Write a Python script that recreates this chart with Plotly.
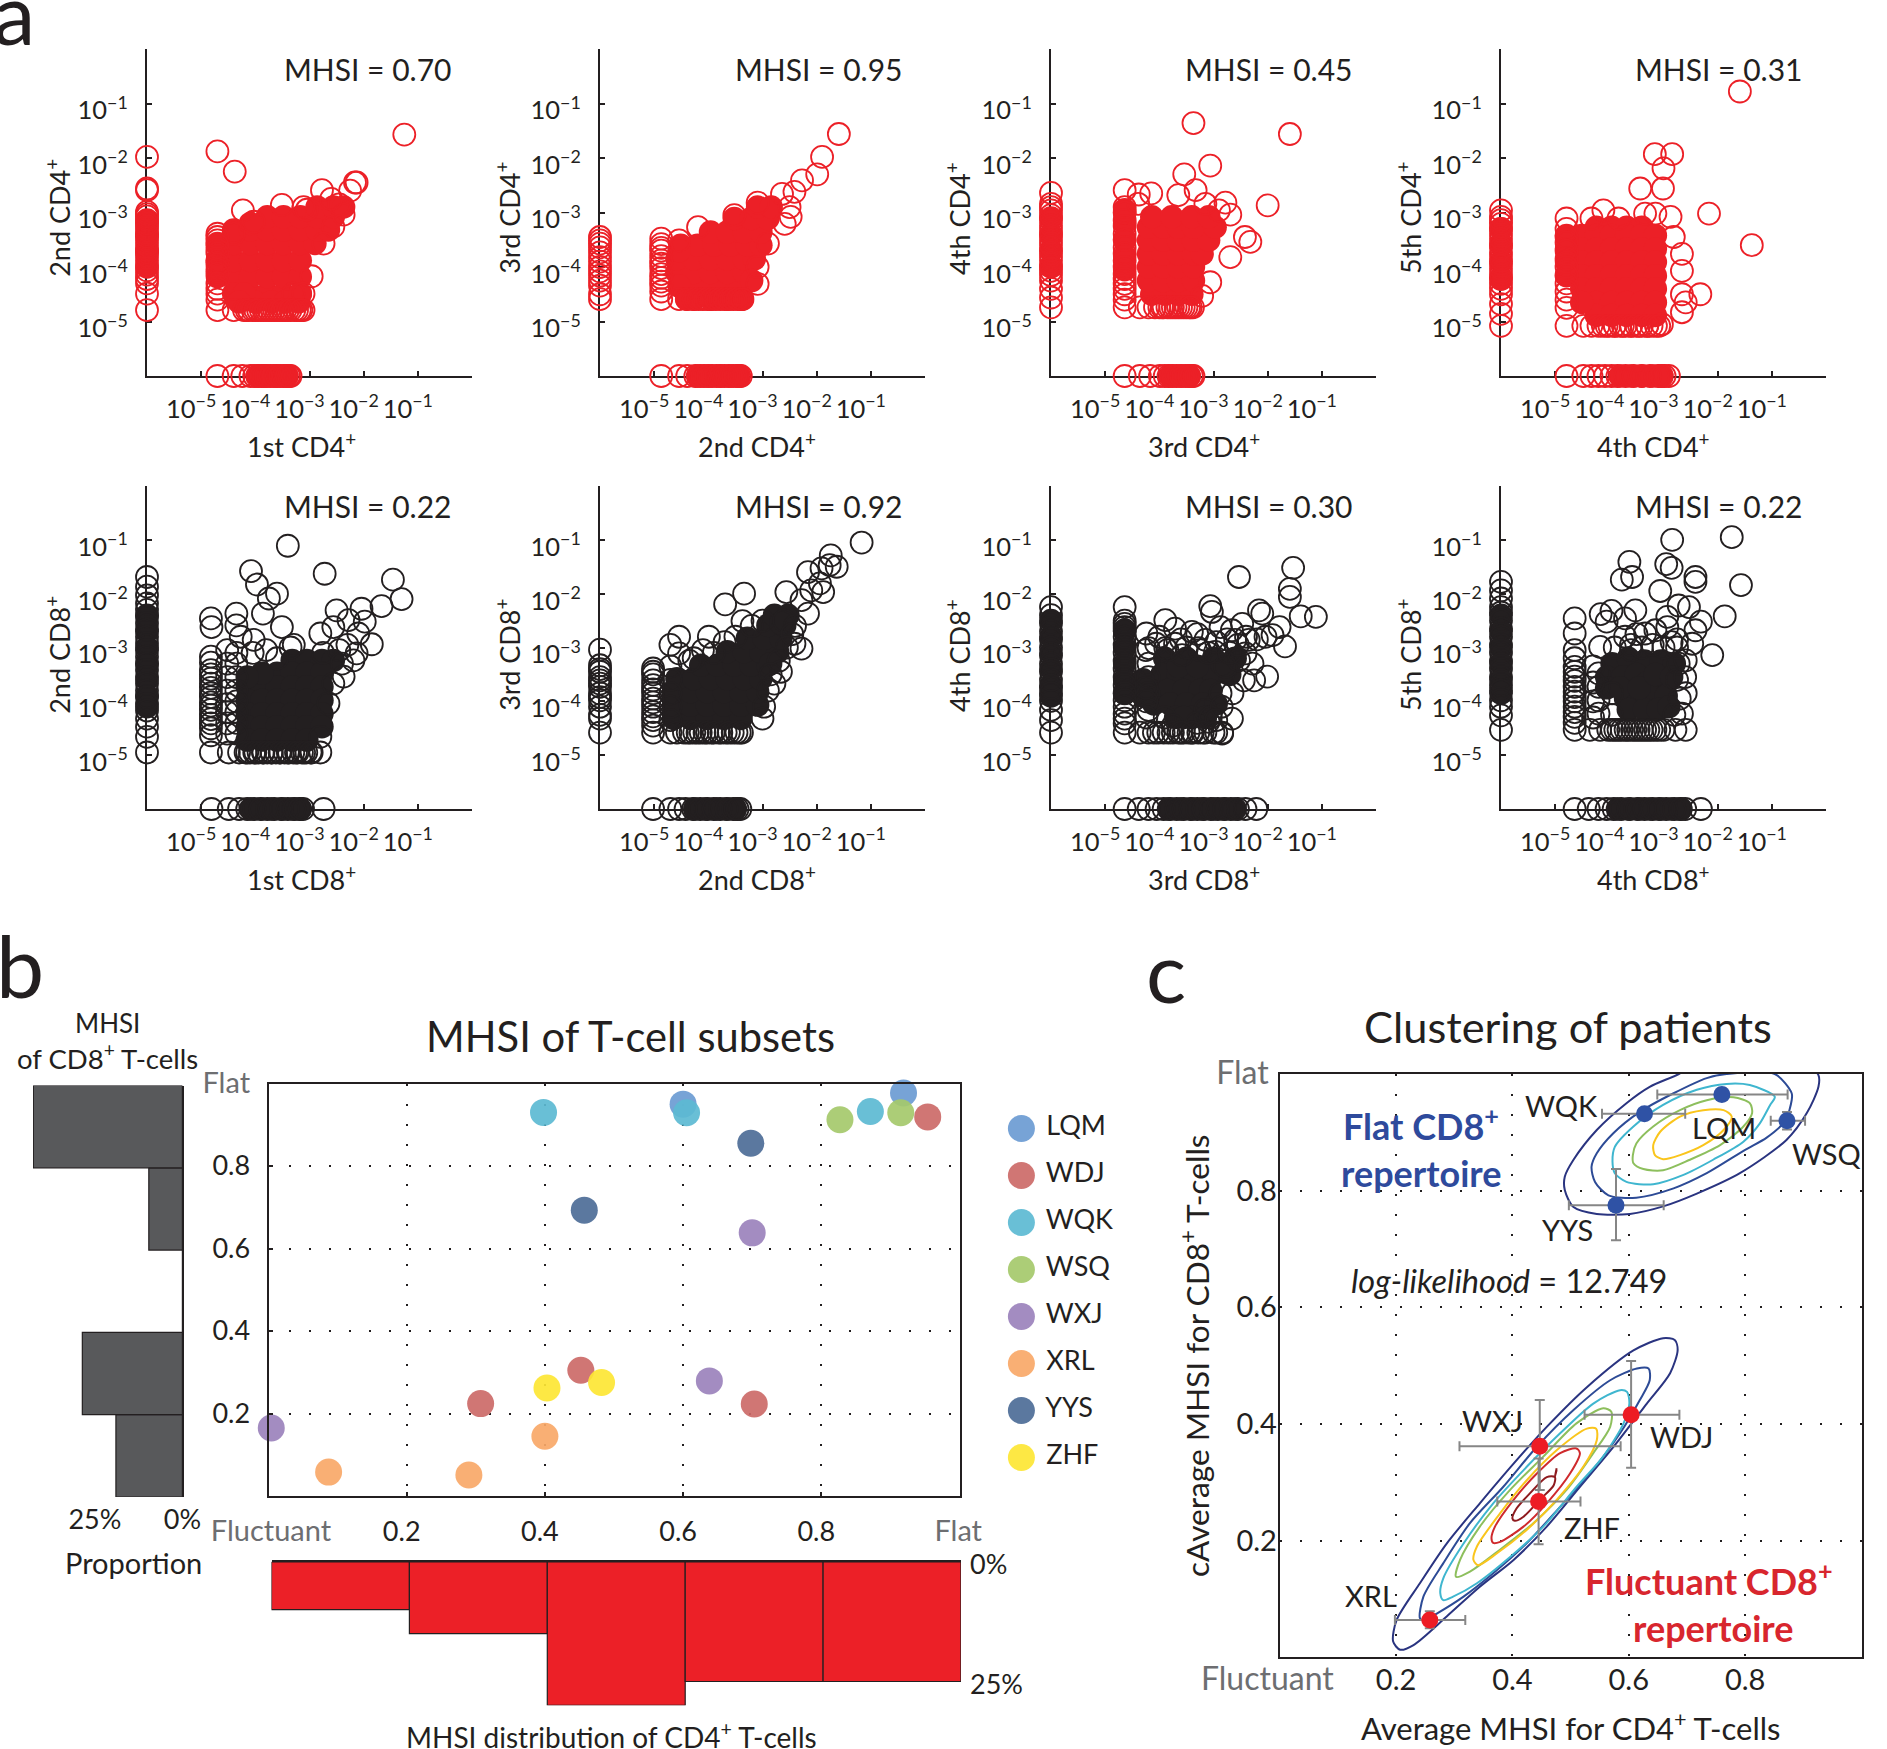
import plotly.graph_objects as go

W, H = 1887, 1749
FONT = "Lato"
INK = "#231f20"
RED = "#ec2027"
GREY = "#6d6e71"

# ---------- panel a: values are log10 of clone frequency; -6 stands for "absent" (on the axis)
ABSENT = -6
TICK_EXP = [-5, -4, -3, -2, -1, 0]

A1_LEFT = [-4.79,-4.49,-4.30,-4.06,-3.88,-3.69,-3.51,-3.32,-3.14,-2.99,-2.59,-2.56,-1.98,
           -4.22,-4.14,-3.97,-3.80,-3.73,-3.60,-3.44,-3.40,-3.25,-3.20,-3.07,-3.03]
A1_BOTTOM = [-4.70,-4.40,-4.24,-4.09,-3.94,-3.84,-3.72,-3.60,-3.48,-3.35,-4.02,-3.89,-3.80,-3.66,-3.54,-3.42,-3.38]
A1_ROW_X = [-4.16,-4.12,-4.00,-3.95,-3.85,-3.80,-3.70,-3.65,-3.55,-3.50,-3.40,-3.35,-3.28,-3.18,-3.15]
A1_COL_Y = [-3.45,-3.60,-3.75,-3.95,-4.05,-4.12,-4.30,-4.40,-4.60]
A1_RING_X = [-1.25,-4.70,-4.38,-2.16,-2.13,-2.25,-2.77,-4.23,-3.51,-4.03,-3.11,-4.40,-4.70,-4.70,-4.70,-4.70,-2.37,-2.56,-2.74,-2.96,
             -4.70,-4.40,-4.21,-4.05,-3.90,-3.75,-3.60,-3.45,-3.23,-3.11,-4.70,-3.30,-3.11,-2.60,-2.45,-3.05]
A1_RING_Y = [-1.57,-1.88,-2.25,-2.45,-2.45,-2.60,-2.59,-2.96,-2.86,-3.17,-2.90,-3.39,-3.39,-3.51,-3.69,-3.88,-3.04,-3.26,-3.57,-4.17,
             -4.79,-4.79,-4.79,-4.79,-4.79,-4.79,-4.79,-4.79,-4.79,-4.79,-4.49,-4.49,-4.49,-2.75,-2.85,-2.95]
A1_CORE_X = [-4.09,-3.78,-3.48,-3.17,
             -4.70,-4.40,-4.09,-3.78,-3.48,-3.17,
             -4.70,-4.40,-4.09,-3.78,-3.48,-3.17,
             -4.70,-4.40,-4.09,-3.78,-3.48,-3.17,-2.90,
             -4.40,-4.09,-3.78,-3.48,-3.17,-2.86,-2.65,
             -3.78,-3.48,-3.17,-2.86,-2.56,
             -2.86,-2.56,-2.37,
             -6,-6,-6,-6, -3.97,-3.78,-3.60,-3.42,
             -4.00,-3.70,-3.45,-3.20,-3.17,-4.09,
             -4.40,-4.21,-4.30]
A1_CORE_Y = [-4.49,-4.49,-4.49,-4.49,
             -4.18,-4.18,-4.18,-4.18,-4.18,-4.18,
             -3.88,-3.88,-3.88,-3.88,-3.88,-3.88,
             -3.57,-3.57,-3.57,-3.57,-3.57,-3.57,-3.57,
             -3.32,-3.32,-3.32,-3.32,-3.32,-3.32,-3.32,
             -3.08,-3.08,-3.08,-3.08,-3.08,
             -2.90,-2.90,-2.90,
             -4.0,-3.7,-3.4,-3.15, -6,-6,-6,-6,
             -4.64,-4.64,-4.64,-4.64,-4.49,-3.20,
             -4.49,-4.49,-4.64]

A2_LEFT = [-4.59,-4.34,-4.16,-4.00,-3.82,-3.64,-3.51,-3.45,-4.50,-4.25,-4.08,-3.90,-3.73,-3.57]
A2_BOTTOM = [-4.87,-4.54,-4.39,-4.24,-4.08,-3.93,-3.77,-3.62,-3.46,-3.40,-4.15,-4.00,-3.85,-3.70,-3.54,-3.43]
A2_ROW_X = [-4.27,-4.18,-4.10,-4.02,-3.94,-3.86,-3.78,-3.70,-3.62,-3.54,-3.46,-3.38]
A2_COL_Y = [-3.58,-3.65,-3.80,-3.88,-4.02,-4.20,-4.27,-4.45]
A2_RING_X = [-1.59,-1.90,-1.99,-2.27,-2.41,-2.64,-2.50,-2.48,-2.59,-3.09,-3.52,-4.19,-4.54,
             -4.87,-4.87,-4.87,-4.87,-4.87,-4.87,-4.54,-4.39,-2.90,-3.09,-3.09,-3.37]
A2_RING_Y = [-1.56,-1.98,-2.30,-2.41,-2.62,-2.66,-2.90,-3.08,-3.21,-2.82,-3.05,-3.27,-3.51,
             -3.48,-3.70,-3.94,-4.13,-4.34,-4.59,-4.59,-4.59,-3.57,-4.00,-4.31,-4.59]
A2_CORE_X = [-4.27,-3.96,-3.65,-3.40,
             -4.39,-4.08,-3.77,-3.46,
             -4.58,-4.27,-3.96,-3.65,-3.34,
             -4.58,-4.27,-3.96,-3.65,-3.34,-3.15,
             -4.51,-4.20,-3.89,-3.59,-3.28,-3.03,
             -3.96,-3.65,-3.34,-3.03,
             -3.52,-3.21,-2.90,
             -3.09,-2.84,
             -4.20,-4.00,-3.80,-3.60,-3.45,
             -4.54,-4.54,-4.40,-3.20]
A2_CORE_Y = [-4.59,-4.59,-4.59,-4.59,
             -4.34,-4.34,-4.34,-4.34,
             -4.10,-4.10,-4.10,-4.10,-4.10,
             -3.85,-3.85,-3.85,-3.85,-3.85,-3.85,
             -3.60,-3.60,-3.60,-3.60,-3.60,-3.60,
             -3.36,-3.36,-3.36,-3.36,
             -3.11,-3.11,-3.11,
             -2.90,-2.90,
             -6,-6,-6,-6,-6,
             -3.70,-4.35,-4.59,-4.25]

A3_LEFT = [-4.74,-4.56,-4.40,-4.25,-4.07,-3.88,-3.70,-3.51,-3.33,-3.14,-2.96,-2.84,-2.64,
           -4.15,-3.98,-3.80,-3.60,-3.42,-3.24,-3.05,-2.90]
A3_BOTTOM = [-4.64,-4.36,-4.17,-3.99,-3.83,-3.68,-3.52,-3.37,-3.90,-3.75,-3.60,-3.45,-3.40]
A3_ROW_X = [-4.00,-3.92,-3.80,-3.70,-3.60,-3.50,-3.42]
A3_COL_Y = [-3.00,-3.25,-3.50,-3.75,-4.00,-4.22,-4.40,-4.60]
A3_RING_X = [-3.37,-1.59,-3.06,-3.54,-3.65,-3.33,-2.00,-4.64,-4.38,-4.15,-2.78,-2.69,-2.90,-3.15,-2.42,-2.32,-2.69,-3.06,-3.21,
             -4.64,-4.36,-4.20,-4.08,-3.95,-3.85,-3.75,-3.65,-3.55,-3.45,-3.38,
             -4.64,-4.64,-4.64,-4.64,-4.64,-4.64,-4.64,-4.64,-4.39]
A3_RING_Y = [-1.36,-1.56,-2.14,-2.30,-2.68,-2.59,-2.87,-2.59,-2.67,-2.65,-2.82,-3.04,-2.96,-2.84,-3.45,-3.54,-3.82,-4.28,-4.53,
             -4.74,-4.74,-4.74,-4.74,-4.74,-4.74,-4.74,-4.74,-4.74,-4.74,-4.74,
             -2.90,-3.14,-3.39,-3.64,-3.88,-4.13,-4.31,-4.50,-2.84]
A3_CORE_X = [-4.14,-3.89,-3.65,-3.40,
             -4.20,-3.93,-3.65,-3.37,
             -4.20,-3.93,-3.65,-3.37,
             -4.20,-3.93,-3.65,-3.37,-3.21,
             -4.20,-3.93,-3.65,-3.37,-3.09,
             -4.20,-3.93,-3.65,-3.37,-2.97,
             -4.14,-3.77,-3.40,-3.09,
             -4.64,-4.64,-4.64,
             -6,-6,-6,-6,
             -3.80,-3.60,-3.45,
             -4.64,-4.64,-4.64]
A3_CORE_Y = [-4.50,-4.50,-4.50,-4.50,
             -4.25,-4.25,-4.25,-4.25,
             -4.00,-4.00,-4.00,-4.00,
             -3.76,-3.76,-3.76,-3.76,-3.76,
             -3.51,-3.51,-3.51,-3.51,-3.51,
             -3.27,-3.27,-3.27,-3.27,-3.27,
             -3.08,-3.08,-3.08,-3.08,
             -3.20,-3.50,-3.80,
             -4.00,-3.70,-3.40,-3.10,
             -6,-6,-6,
             -3.00,-4.05,-2.95]

A4_LEFT = [-5.08,-4.86,-4.68,-4.50,-4.31,-4.13,-3.94,-3.76,-3.57,-3.39,-3.21,-3.08,-2.96,
           -4.40,-4.22,-4.03,-3.85,-3.66,-3.48,-3.30,-3.14]
A4_BOTTOM = [-4.79,-4.48,-4.33,-4.20,-4.08,-3.96,-2.98,-2.90,-3.85,-3.70,-3.55,-3.40,-3.25,-3.10,-3.03]
A4_ROW_X = [-4.12,-4.00,-3.90,-3.80,-3.70,-3.60,-3.50,-3.40,-3.30,-3.22,-3.14,-3.08]
A4_COL_Y = [-3.45,-3.55,-3.70,-3.85,-4.00,-4.15,-4.30,-4.45,-4.60,-4.75]
A4_RING_X = [-1.59,-3.16,-2.84,-3.00,-3.01,-3.43,-2.16,-1.37,-2.32,-2.66,-2.66,-2.66,-2.66,-2.81,-2.87,-3.15,-3.34,-4.11,-4.33,-3.83,
             -4.79,-4.79,-3.03,-4.79,-4.48,-4.33,-4.20,-4.05,-3.90,-3.75,-3.60,-3.45,-3.30,-2.59]
A4_RING_Y = [-0.78,-1.93,-1.93,-2.19,-2.56,-2.56,-3.02,-3.60,-4.50,-3.76,-4.07,-4.50,-4.83,-3.45,-3.08,-3.02,-3.02,-2.96,-3.11,-3.11,
             -3.11,-3.30,-5.05,-5.08,-5.08,-5.08,-5.08,-5.08,-5.08,-5.08,-5.08,-5.08,-5.08,-4.65]
A4_CORE_X = [-4.24,-3.96,-3.68,-3.40,
             -4.79,-4.51,-4.24,-3.96,-3.68,-3.40,-3.15,
             -4.79,-4.51,-4.24,-3.96,-3.68,-3.40,-3.15,
             -4.79,-4.51,-4.24,-3.96,-3.68,-3.40,-3.15,
             -4.79,-4.51,-4.24,-3.96,-3.68,-3.40,-3.15,
             -4.51,-4.24,-3.96,-3.68,-3.40,-3.15,
             -4.24,-3.96,-3.68,-3.40,-3.15,
             -6,-6,-6,-6,
             -3.80,-3.60,-3.40,-3.20,-3.05,
             -4.24,-3.96,-3.68,-3.40,-3.15,-4.51]
A4_CORE_Y = [-3.27,-3.27,-3.27,-3.27,
             -3.42,-3.42,-3.42,-3.42,-3.42,-3.42,-3.42,
             -3.67,-3.67,-3.67,-3.67,-3.67,-3.67,-3.67,
             -3.91,-3.91,-3.91,-3.91,-3.91,-3.91,-3.91,
             -4.16,-4.16,-4.16,-4.16,-4.16,-4.16,-4.16,
             -4.40,-4.40,-4.40,-4.40,-4.40,-4.40,
             -4.65,-4.65,-4.65,-4.65,-4.65,
             -4.20,-3.90,-3.60,-3.30,
             -6,-6,-6,-6,-6,
             -4.89,-4.89,-4.89,-4.89,-4.89,-4.65]

A5_LEFT = [-4.95,-4.66,-4.47,-4.32,-1.69,-1.87,-2.03,-2.18,
           -2.30,-2.42,-2.55,-2.67,-2.80,-2.92,-3.05,-3.17,-3.30,-3.42,-3.55,-3.67,-3.80,-3.92,-4.05,-4.17]
A5_BOTTOM = [-4.81,-4.49,-4.30,-2.74,-4.15,-4.02,-3.90,-3.78,-3.65,-3.52,-3.40,-3.28,-3.18,-3.12]
A5_ROW_X = [-4.18,-4.10,-4.02,-3.94,-3.86,-3.78,-3.70,-3.62,-3.54,-3.46,-3.38,-3.30,-3.22,-3.14,-3.06,-2.98]
A5_COL_Y = [-3.28,-3.50,-3.58,-3.75,-3.85,-4.02,-4.08,-4.25,-4.33,-4.50]
A5_RING_X = [-3.40,-2.72,-1.46,-1.30,-1.67,-4.08,-3.97,-3.60,-3.75,-4.82,-4.81,-4.35,-4.35,-3.86,-3.51,-2.50,-2.04,-1.98,-1.85,-2.28,
             -2.10,-2.37,-2.19,-2.80,-2.56,-4.27,-4.03,-3.29,-2.13,-4.82,-4.82,-4.82,-4.82,-4.82,-4.82,-4.82,-4.82,
             -4.49,-4.30,-4.15,-4.00,-3.85,-3.70,-3.55,-3.40,-3.25,-3.10,-2.96,-2.80,-2.80,-2.65,-2.56,-4.52,-4.52,-4.52,
             -4.35,-4.35,-4.35,-4.35,-4.35,-4.35,-4.35,-4.35,-4.52,-4.52,-4.52,-4.52,-4.52,
             -4.05,-3.80,-3.60,-3.35,-2.75,-2.45,-2.40,-2.30]
A5_RING_Y = [-1.11,-1.63,-1.74,-2.10,-2.23,-1.58,-1.83,-2.00,-2.09,-2.46,-2.62,-2.37,-2.59,-2.37,-2.62,-2.31,-2.28,-2.52,-2.94,-2.49,
             -2.74,-3.54,-3.24,-2.74,-2.62,-2.80,-2.86,-2.95,-3.11,-3.17,-3.42,-3.67,-3.92,-4.16,-4.41,-4.63,-4.95,
             -4.95,-4.95,-4.95,-4.95,-4.95,-4.95,-4.95,-4.95,-4.95,-4.95,-4.95,-4.95,-4.66,-4.04,-3.67,-3.30,-3.80,-4.41,
             -3.10,-3.30,-3.55,-3.80,-4.00,-4.20,-4.40,-4.60,-3.05,-3.55,-4.05,-4.20,-4.60,
             -3.10,-3.05,-3.20,-3.00,-3.10,-3.05,-3.30,-2.95]
A5_CORE_X = [-3.32,-3.05,-2.77,-2.56,
             -3.60,-3.32,-3.05,-2.77,
             -4.15,-3.88,-3.60,-3.32,-3.05,-2.77,
             -4.15,-3.88,-3.60,-3.32,-3.05,-2.77,
             -4.15,-3.88,-3.60,-3.32,-3.05,-2.77,
             -4.15,-3.88,-3.60,-3.32,-3.05,-2.77,
             -4.15,-3.88,-3.60,-3.32,-3.05,
             -6,-6,-6,-6,-6,-6,-6,
             -4.09,-3.90,-3.70,-3.50,-3.30,-3.17,
             -3.88,-4.15]
A5_CORE_Y = [-3.24,-3.24,-3.24,-3.24,
             -3.48,-3.48,-3.48,-3.48,
             -3.73,-3.73,-3.73,-3.73,-3.73,-3.73,
             -3.98,-3.98,-3.98,-3.98,-3.98,-3.98,
             -4.23,-4.23,-4.23,-4.23,-4.23,-4.23,
             -4.47,-4.47,-4.47,-4.47,-4.47,-4.47,
             -4.72,-4.72,-4.72,-4.72,-4.72,
             -2.40,-2.70,-3.00,-3.30,-3.60,-3.90,-4.10,
             -6,-6,-6,-6,-6,-6,
             -3.48,-3.55]

A6_LEFT = [-4.58,-4.32,-4.10,-3.92,-3.73,-3.61,-3.45,-3.33,-3.04,-4.25,-3.98,-3.85,-3.67,-3.55,-3.40]
A6_BOTTOM = [-5.02,-4.70,-4.54,-4.42,-3.41,-4.28,-4.15,-4.02,-3.90,-3.78,-3.66,-3.54,-3.46]
A6_ROW_X = [-4.38,-4.26,-4.14,-4.02,-3.90,-3.76,-3.62,-3.48,-3.38]
A6_COL_Y = [-3.45,-3.50,-3.70,-3.78,-3.95,-4.02,-4.20,-4.28,-4.45]
A6_RING_X = [-1.17,-1.74,-1.63,-1.76,-1.91,-2.16,-1.94,-1.88,-2.10,-2.28,-3.34,-3.69,-3.37,-2.56,-2.16,-2.28,-2.41,
             -4.54,-3.99,-4.70,-4.54,-4.27,-2.66,-2.97,-3.00,-2.78,
             -5.02,-5.02,-5.02,-5.02,-5.02,-5.02,
             -4.70,-4.58,-4.45,-4.33,-4.20,-4.07,-3.94,-3.81,-3.68,-3.55,-3.42,
             -4.70,-4.70,-4.70,-4.70,-4.70,-4.10,-3.90,-4.35,-3.70,-3.50,-3.20,-3.00,-2.60,-2.40,-2.45,-2.55,-2.70,-2.85,-2.90]
A6_RING_Y = [-1.05,-1.29,-1.50,-1.47,-1.53,-1.60,-1.81,-1.97,-1.94,-2.12,-2.00,-2.20,-2.51,-1.97,-2.37,-3.02,-2.93,
             -2.80,-2.80,-2.95,-3.11,-3.20,-3.45,-4.10,-4.32,-3.67,
             -3.39,-3.61,-3.85,-4.10,-4.35,-4.58,
             -4.58,-4.58,-4.58,-4.58,-4.58,-4.58,-4.58,-4.58,-4.58,-4.58,-4.58,
             -3.35,-3.60,-3.85,-4.10,-4.35,-3.05,-3.10,-3.25,-2.90,-2.80,-2.60,-2.50,-2.50,-2.60,-2.75,-3.00,-3.25,-3.50,-3.80]
A6_CORE_X = [-4.64,-4.33,-4.02,-3.71,-3.40,
             -4.64,-4.33,-4.02,-3.71,-3.40,-3.09,
             -4.64,-4.33,-4.02,-3.71,-3.40,-3.09,
             -4.58,-4.27,-3.96,-3.65,-3.34,-3.03,
             -4.14,-3.83,-3.52,-3.21,-2.90,
             -3.65,-3.34,-3.03,-2.72,
             -3.28,-2.97,-2.66,
             -2.90,-2.59,
             -2.78,-2.53,
             -4.25,-4.05,-3.85,-3.65,-3.50,
             -2.66,-2.85]
A6_CORE_Y = [-4.32,-4.32,-4.32,-4.32,-4.32,
             -4.07,-4.07,-4.07,-4.07,-4.07,-4.07,
             -3.82,-3.82,-3.82,-3.82,-3.82,-3.82,
             -3.58,-3.58,-3.58,-3.58,-3.58,-3.58,
             -3.33,-3.33,-3.33,-3.33,-3.33,
             -3.08,-3.08,-3.08,-3.08,
             -2.83,-2.83,-2.83,
             -2.59,-2.59,
             -2.40,-2.40,
             -6,-6,-6,-6,-6,
             -2.55,-3.30]

A7_LEFT = [-4.58,-4.35,-4.16,-3.99,-2.25,-2.40,-2.55,-2.70,-2.85,-3.00,-3.15,-3.30,-3.45,-3.60,-3.75,-3.85]
A7_BOTTOM = [-4.64,-4.38,-4.20,-4.05,-2.41,-2.21,-3.92,-3.80,-3.68,-3.55,-3.42,-3.30,-3.18,-3.05,-2.92,-2.80,-2.68,-2.55]
A7_ROW_X = [-4.10,-3.92,-3.75,-3.55,-3.38,-3.20,-3.00,-2.95,-3.40,-3.60]
A7_COL_Y = [-2.50,-2.62,-2.80,-2.95,-3.10,-3.25,-3.40,-3.55,-3.70,-3.85,-3.98,-4.10,-4.32]
A7_RING_X = [-2.53,-1.53,-1.59,-1.59,-1.39,-1.11,-3.06,-3.03,-2.16,-2.10,-1.68,-1.78,-2.04,-2.01,-2.25,-2.44,-2.28,-2.47,-2.66,-2.35,
             -1.91,-2.66,-2.84,-3.09,-3.89,-3.71,-3.40,-3.15,-2.87,-4.24,-4.06,-3.71,-2.78,-2.87,
             -4.64,-4.64,-4.64,-4.64,-4.64,-4.64,-4.36,-4.20,-4.02,-3.83,-3.65,-3.46,-3.28,-3.15,-2.84,
             -4.20,-3.89,-3.58,-3.28,-2.97,-2.60,-2.41,-2.53,-4.20,-4.20,-3.15,
             -4.25,-4.20,-4.20,-4.24,-4.24,-4.24,-4.00,-3.85,-3.60,-3.50,-3.30,-3.25,-3.10,-2.95,-2.75,-2.70,-2.55,-2.40,-2.20,
             -3.90,-3.75,-3.30,-3.05,-2.85,-2.95,-2.65]
A7_RING_Y = [-1.69,-1.52,-1.91,-2.06,-2.42,-2.43,-2.23,-2.34,-2.31,-2.37,-2.98,-2.62,-2.80,-3.54,-3.61,-3.61,-3.30,-2.56,-2.68,-2.86,
             -2.77,-4.32,-4.60,-4.38,-2.49,-2.65,-2.71,-2.86,-2.62,-2.74,-2.93,-2.93,-3.36,-3.85,
             -2.25,-2.56,-2.68,-4.23,-4.41,-4.58,-4.58,-4.58,-4.58,-4.58,-4.58,-4.58,-4.58,-4.58,-4.58,
             -3.01,-3.01,-3.14,-3.01,-3.08,-2.86,-3.11,-3.24,-3.85,-4.16,-4.16,
             -3.05,-3.30,-3.55,-3.75,-4.00,-4.30,-2.80,-3.05,-2.85,-3.00,-2.75,-3.05,-3.10,-2.90,-2.85,-3.10,-2.95,-2.80,-2.85,
             -4.30,-4.45,-4.40,-4.30,-4.10,-4.35,-3.85]
A7_CORE_X = [-3.90,-3.50,-3.00,-2.60,
             -3.95,-3.65,-3.35,-3.00,-2.70,
             -4.15,-3.85,-3.55,-3.25,-3.05,
             -4.10,-3.80,-3.50,-3.20,
             -3.70,-3.40,
             -4.64,-4.64,-4.64,-4.64,-4.64,
             -6,-6,-6,-6,-6,-6,
             -3.83,-3.60,-3.40,-3.20,-3.00,-2.80,-2.60,
             -3.65,-3.30,-2.85,-4.30,-4.30,-2.95,-3.55,-3.15]
A7_CORE_Y = [-3.20,-3.20,-3.20,-3.20,
             -3.50,-3.50,-3.50,-3.50,-3.50,
             -3.80,-3.80,-3.80,-3.80,-3.80,
             -4.05,-4.05,-4.05,-4.05,
             -4.30,-4.30,
             -2.70,-3.00,-3.30,-3.60,-3.85,
             -2.50,-2.80,-3.10,-3.40,-3.70,-3.90,
             -6,-6,-6,-6,-6,-6,-6,
             -3.35,-3.35,-3.30,-3.60,-3.90,-4.05,-4.30,-4.30]

A8_LEFT = [-4.53,-4.26,-4.10,-3.98,-1.78,-1.94,-2.09,-2.25,-2.35,-2.50,-2.65,-2.80,-2.95,-3.10,-3.25,-3.40,-3.55,-3.70,-3.80]
A8_BOTTOM = [-4.64,-4.38,-4.20,-4.05,-2.31,-3.92,-3.78,-3.62,-3.48,-3.35,-3.20,-3.08,-2.95,-2.80,-2.68,-2.60]
A8_ROW_X = [-3.95,-3.83,-3.70,-3.58,-3.46,-3.34,-3.22,-3.08]
A8_COL_Y = [-3.20,-3.45,-3.62,-3.82,-4.00,-4.20,-4.40]
A8_RING_X = [-1.74,-2.84,-3.63,-3.58,-3.77,-2.95,-2.85,-2.41,-2.41,-1.57,-3.06,-1.87,-2.10,-2.72,-2.53,-2.31,-2.41,-2.47,-2.93,-2.93,
             -4.16,-3.96,-4.05,-3.71,-3.52,-4.17,-3.71,-3.34,-3.15,-2.59,-2.72,-2.59,-2.66,-2.59,-2.78,
             -4.64,-4.64,-4.64,-4.64,-4.64,-4.64,-4.64,-4.64,-4.64,-4.64,
             -4.36,-4.17,-4.02,-3.89,-3.77,-3.65,-3.52,-3.40,-3.28,-3.15,-3.00,
             -4.20,-4.20,-4.20,-4.20,-3.95,-3.60,
             -4.30,-4.30,-4.30,-4.30,-3.95,-3.90,-3.60,-3.40,-3.20,-3.00,-2.85,-2.75,-2.60,-2.75,-2.70,-2.80,-3.50,-2.75]
A8_RING_Y = [-0.95,-1.00,-1.41,-1.69,-1.74,-1.45,-1.52,-1.69,-1.78,-1.84,-1.95,-2.42,-3.14,-2.22,-2.25,-2.52,-2.68,-2.93,-2.43,-2.62,
             -2.38,-2.32,-2.52,-2.46,-2.31,-2.99,-2.80,-2.74,-2.68,-3.24,-3.30,-3.85,-4.23,-4.53,-4.53,
             -2.46,-2.74,-3.05,-3.36,-3.54,-3.73,-3.92,-4.10,-4.29,-4.53,
             -4.53,-4.53,-4.53,-4.53,-4.53,-4.53,-4.53,-4.53,-4.53,-4.53,-4.53,
             -3.48,-3.73,-3.98,-4.23,-3.85,-3.05,
             -3.35,-3.65,-4.00,-4.30,-4.25,-3.00,-2.95,-3.00,-2.95,-3.00,-2.90,-3.00,-3.55,-3.60,-3.95,-4.25,-2.75,-2.85]
A8_CORE_X = [-3.95,-3.65,-3.35,-3.05,-2.80,
             -4.05,-3.75,-3.50,
             -3.30,-3.00,
             -3.70,-3.45,-3.20,-2.95,
             -3.65,-3.35,-3.10,-2.90,
             -6,-6,-6,-6,-6,-6,
             -3.85,-3.65,-3.45,-3.25,-3.05,-2.85,-2.70,
             -4.05,-3.80,-3.45,-3.15,-2.85]
A8_CORE_Y = [-3.30,-3.20,-3.25,-3.25,-3.30,
             -3.55,-3.55,-3.50,
             -3.65,-3.70,
             -3.95,-3.95,-3.90,-3.90,
             -4.15,-4.15,-4.15,-4.10,
             -2.40,-2.70,-3.00,-3.30,-3.60,-3.85,
             -6,-6,-6,-6,-6,-6,-6,
             -3.75,-3.75,-3.75,-3.50,-3.55]

A_ROW_Y = [-4.79, -4.59, -4.74, -5.08, -4.95, -4.58, -4.58, -4.53]
A_COL_X = [-4.70, -4.87, -4.64, -4.79, -4.82, -5.02, -4.64, -4.64]
A_X_LABELS = ["1st CD4", "2nd CD4", "3rd CD4", "4th CD4", "1st CD8", "2nd CD8", "3rd CD8", "4th CD8"]
A_Y_LABELS = ["2nd CD4", "3rd CD4", "4th CD4", "5th CD4", "2nd CD8", "3rd CD8", "4th CD8", "5th CD8"]
A_MHSI = ["0.70", "0.95", "0.45", "0.31", "0.22", "0.92", "0.30", "0.22"]

# ---------- panel b
PATIENTS = ["LQM", "WDJ", "WQK", "WSQ", "WXJ", "XRL", "YYS", "ZHF"]
PATIENT_COLORS = ["#6b9bd2", "#cc6a68", "#5cbad3", "#a5c96b", "#9b82bc", "#f9a868", "#4d6c97", "#fde634"]
B_X = [[0.919, 0.600], [0.954, 0.307, 0.452, 0.703], [0.398, 0.605, 0.871], [0.827, 0.915],
       [0.700, 0.638, 0.004], [0.087, 0.290, 0.400], [0.698, 0.457], [0.403, 0.482]]
B_Y = [[0.977, 0.950], [0.919, 0.224, 0.305, 0.223], [0.930, 0.929, 0.932], [0.912, 0.929],
       [0.638, 0.279, 0.165], [0.058, 0.051, 0.145], [0.855, 0.693], [0.262, 0.275]]
BIN_CENTRES = [0.1, 0.3, 0.5, 0.7, 0.9]
CD8_SHARE = [19.0, 28.6, 0.0, 9.6, 42.6]
CD4_SHARE = [10.0, 15.0, 30.0, 25.0, 25.0]

# ---------- panel c
C_BLUE = ["LQM", "WQK", "WSQ", "YYS"]
C_BLUE_X = [0.760, 0.627, 0.872, 0.578]
C_BLUE_Y = [0.965, 0.932, 0.920, 0.775]
C_BLUE_XLO = [0.649, 0.554, 0.844, 0.497]
C_BLUE_XHI = [0.873, 0.697, 0.903, 0.660]
C_BLUE_YLO = [0.955, 0.925, 0.905, 0.715]
C_BLUE_YHI = [0.975, 0.940, 0.935, 0.837]
C_RED = ["XRL", "ZHF", "WXJ", "WDJ"]
C_RED_X = [0.258, 0.445, 0.447, 0.604]
C_RED_Y = [0.064, 0.267, 0.362, 0.416]
C_RED_XLO = [0.198, 0.374, 0.309, 0.524]
C_RED_XHI = [0.319, 0.517, 0.586, 0.687]
C_RED_YLO = [0.050, 0.194, 0.287, 0.325]
C_RED_YHI = [0.079, 0.341, 0.441, 0.508]

CONTOUR_COLORS = ["#2a3480", "#2d4b96", "#3fb6cf", "#8dbf5d", "#fac51c", "#cf2a2d", "#8e1b1f"]

BLUE_1X = [0.490,0.505,0.545,0.596,0.636,0.686,0.722,0.791,0.894,0.926,0.926,0.906,0.871,0.791,0.717,0.659,0.602,0.545,0.505,0.490,0.490]
BLUE_1Y = [0.824,0.853,0.904,0.950,0.978,1.000,1.021,1.033,1.027,0.998,0.978,0.933,0.887,0.830,0.795,0.773,0.760,0.760,0.772,0.801,0.824]
BLUE_2X = [0.536,0.545,0.573,0.619,0.677,0.734,0.768,0.851,0.880,0.880,0.869,0.837,0.800,0.734,0.677,0.613,0.565,0.542,0.536]
BLUE_2Y = [0.841,0.864,0.898,0.935,0.967,0.993,1.000,1.000,0.967,0.955,0.920,0.891,0.870,0.830,0.804,0.788,0.792,0.815,0.841]
BLUE_3X = [0.572,0.576,0.608,0.659,0.717,0.768,0.808,0.851,0.843,0.825,0.797,0.745,0.694,0.642,0.596,0.576,0.572]
BLUE_3Y = [0.850,0.875,0.910,0.947,0.973,0.983,0.981,0.961,0.947,0.915,0.884,0.853,0.827,0.811,0.815,0.830,0.850]
BLUE_4X = [0.607,0.613,0.642,0.688,0.734,0.780,0.808,0.812,0.797,0.757,0.705,0.659,0.625,0.608,0.607]
BLUE_4Y = [0.861,0.881,0.910,0.938,0.955,0.960,0.950,0.933,0.910,0.878,0.853,0.835,0.837,0.847,0.861]
BLUE_5X = [0.642,0.654,0.688,0.728,0.763,0.777,0.763,0.728,0.688,0.659,0.645,0.642]
BLUE_5Y = [0.878,0.901,0.927,0.938,0.938,0.927,0.904,0.878,0.861,0.854,0.861,0.878]

RED_1X = [0.195,0.201,0.241,0.287,0.344,0.402,0.459,0.528,0.608,0.659,0.679,0.684,0.671,0.631,0.574,0.516,0.459,0.402,0.344,0.287,0.230,0.207,0.195]
RED_1Y = [0.027,0.064,0.127,0.195,0.264,0.332,0.395,0.463,0.526,0.547,0.544,0.527,0.487,0.435,0.361,0.292,0.224,0.167,0.121,0.070,0.021,0.013,0.027]
RED_2X = [0.241,0.247,0.281,0.327,0.384,0.442,0.505,0.568,0.614,0.634,0.636,0.619,0.585,0.533,0.482,0.424,0.367,0.316,0.270,0.247,0.241]
RED_2Y = [0.067,0.104,0.161,0.230,0.292,0.361,0.424,0.475,0.495,0.495,0.475,0.441,0.384,0.315,0.258,0.195,0.144,0.104,0.075,0.063,0.067]
RED_3X = [0.276,0.281,0.316,0.367,0.425,0.482,0.539,0.585,0.597,0.601,0.591,0.556,0.510,0.453,0.396,0.339,0.298,0.281,0.276]
RED_3Y = [0.110,0.135,0.195,0.264,0.327,0.384,0.435,0.458,0.455,0.435,0.401,0.344,0.292,0.224,0.172,0.127,0.104,0.098,0.110]
RED_4X = [0.303,0.310,0.344,0.396,0.453,0.510,0.556,0.570,0.568,0.539,0.493,0.436,0.378,0.327,0.303]
RED_4Y = [0.138,0.167,0.224,0.287,0.344,0.401,0.427,0.421,0.395,0.350,0.287,0.230,0.184,0.147,0.138]
RED_5X = [0.333,0.339,0.379,0.425,0.476,0.528,0.544,0.545,0.522,0.476,0.424,0.373,0.341,0.333]
RED_5Y = [0.167,0.190,0.247,0.304,0.355,0.392,0.392,0.372,0.327,0.270,0.218,0.178,0.158,0.167]
RED_6X = [0.364,0.370,0.402,0.442,0.482,0.510,0.516,0.499,0.459,0.419,0.379,0.367,0.364]
RED_6Y = [0.204,0.224,0.270,0.315,0.350,0.358,0.350,0.315,0.264,0.224,0.198,0.196,0.204]
RED_7X = [0.400,0.407,0.430,0.459,0.473,0.471,0.447,0.419,0.404,0.400]
RED_7Y = [0.238,0.255,0.281,0.309,0.309,0.295,0.270,0.241,0.234,0.238]
RED_8X = [0.476,0.473,0.476]
RED_8Y = [0.324,0.309,0.321]

BLUE_CONTOURS = [(BLUE_1X, BLUE_1Y, 0), (BLUE_2X, BLUE_2Y, 1), (BLUE_3X, BLUE_3Y, 2), (BLUE_4X, BLUE_4Y, 3), (BLUE_5X, BLUE_5Y, 4)]
RED_CONTOURS = [(RED_1X, RED_1Y, 0), (RED_2X, RED_2Y, 1), (RED_3X, RED_3Y, 2), (RED_4X, RED_4Y, 3), (RED_5X, RED_5Y, 4),
                (RED_6X, RED_6Y, 5), (RED_7X, RED_7Y, 6), (RED_8X, RED_8Y, 6)]

AXIS_TICKS_01 = [0, 0.2, 0.4, 0.6, 0.8, 1]


# ---------- helpers
def dom_x(l, r):
    return [l / W, r / W]


def dom_y(t, b):
    return [1 - b / H, 1 - t / H]


fig = go.Figure()
notes = []


def note(text, x, y, size=26, color=INK, angle=0, anchor="center"):
    notes.append(dict(text=text, x=x / W, y=1 - y / H, xref="paper", yref="paper", showarrow=False,
                      xanchor=anchor, yanchor="middle", textangle=angle,
                      font=dict(family=FONT, size=size, color=color)))


def exp10(vals):
    return [10.0 ** v for v in vals]


def tick_texts():
    out = []
    for e in TICK_EXP:
        out.append("" if e == 0 else "10<sup>\u2212%d</sup>" % (-e))
    return out


layout = {}
A_LEFT = [147, 600, 1051, 1501]
A_ROWS = [(49, 376), (486, 809)]
A_XTITLE_X = [301, 757, 1203.5, 1653.5]
A_YTITLE_X = [57.8, 507.8, 957.9, 1409]
A_MHSI_X = [367.6, 818.3, 1268.4, 1718.5]
panels = [
    (A1_LEFT, A1_BOTTOM, A1_RING_X, A1_RING_Y, A1_CORE_X, A1_CORE_Y, A1_ROW_X, A1_COL_Y),
    (A2_LEFT, A2_BOTTOM, A2_RING_X, A2_RING_Y, A2_CORE_X, A2_CORE_Y, A2_ROW_X, A2_COL_Y),
    (A3_LEFT, A3_BOTTOM, A3_RING_X, A3_RING_Y, A3_CORE_X, A3_CORE_Y, A3_ROW_X, A3_COL_Y),
    (A4_LEFT, A4_BOTTOM, A4_RING_X, A4_RING_Y, A4_CORE_X, A4_CORE_Y, A4_ROW_X, A4_COL_Y),
    (A5_LEFT, A5_BOTTOM, A5_RING_X, A5_RING_Y, A5_CORE_X, A5_CORE_Y, A5_ROW_X, A5_COL_Y),
    (A6_LEFT, A6_BOTTOM, A6_RING_X, A6_RING_Y, A6_CORE_X, A6_CORE_Y, A6_ROW_X, A6_COL_Y),
    (A7_LEFT, A7_BOTTOM, A7_RING_X, A7_RING_Y, A7_CORE_X, A7_CORE_Y, A7_ROW_X, A7_COL_Y),
    (A8_LEFT, A8_BOTTOM, A8_RING_X, A8_RING_Y, A8_CORE_X, A8_CORE_Y, A8_ROW_X, A8_COL_Y),
]

for i, (left_s, bottom_s, rx, ry, cx, cy, row_x, col_y) in enumerate(panels):
    n = i + 1
    row = i // 4
    col = i % 4
    color = RED if row == 0 else INK
    sup = "<sup>+</sup>"
    xa, ya = ("x%d" % n, "y%d" % n)
    l = A_LEFT[col]
    t, b = A_ROWS[row]
    xs = [ABSENT] * len(left_s) + list(bottom_s) + list(rx) + list(row_x) + [A_COL_X[i]] * len(col_y)
    ys = list(left_s) + [ABSENT] * len(bottom_s) + list(ry) + [A_ROW_Y[i]] * len(row_x) + list(col_y)
    fig.add_trace(go.Scatter(x=exp10(cx), y=exp10(cy), mode="markers", xaxis=xa, yaxis=ya, cliponaxis=False,
                             marker=dict(size=23.5, color=color, line=dict(width=0)), showlegend=False))
    fig.add_trace(go.Scatter(x=exp10(xs), y=exp10(ys), mode="markers", xaxis=xa, yaxis=ya, cliponaxis=False,
                             marker=dict(size=22, color="rgba(0,0,0,0)", line=dict(width=1.8, color=color)), showlegend=False))
    common = dict(type="log", range=[-6, 0], tickmode="array", tickvals=exp10(TICK_EXP), showgrid=False, zeroline=False,
                  showline=True, linecolor=INK, linewidth=2.2, ticks="inside", ticklen=5, tickwidth=1.8, tickcolor=INK,
                  layer="below traces", tickfont=dict(family=FONT, size=25.5, color=INK), ticktext=tick_texts())
    layout["xaxis%d" % n] = dict(common, domain=dom_x(l, l + 325), anchor=ya, ticklabelstandoff=9, ticklabelshift=-10, tickangle=0)
    layout["yaxis%d" % n] = dict(common, domain=dom_y(t, b), anchor=xa, ticklabelstandoff=12, ticklabelshift=7)
    note(A_Y_LABELS[i] + sup, A_YTITLE_X[col], t + 169, 27, angle=-90)
    note(A_X_LABELS[i] + sup, A_XTITLE_X[col], b + 69, 27)
    note("MHSI = " + A_MHSI[i], A_MHSI_X[col], t + 20, 30)

# panel b: main scatter
for name, color, xs, ys in zip(PATIENTS, PATIENT_COLORS, B_X, B_Y):
    fig.add_trace(go.Scatter(x=xs, y=ys, mode="markers", xaxis="x9", yaxis="y9", name=name, cliponaxis=False,
                             marker=dict(size=27, color=color, opacity=0.92, line=dict(width=0)), showlegend=False))


def grey(t, size, before=0, after=0):
    return "<span style='color:%s;font-size:%dpx'>%s%s%s</span>" % (GREY, size, "\u00a0" * before, t, "\u00a0" * after)


grid = dict(showgrid=True, gridcolor=INK, gridwidth=1.6, griddash="2px,18px", zeroline=False, showline=True, linecolor=INK,
            linewidth=2, mirror=True, ticks="inside", ticklen=4, tickwidth=1.5, tickcolor=INK, tickmode="array",
            tickvals=AXIS_TICKS_01, range=[0, 1])
layout["xaxis9"] = dict(grid, domain=dom_x(268.5, 959.5), anchor="y9", tickfont=dict(family=FONT, size=27, color=INK),
                        ticktext=[grey("Fluctuant", 29, before=2), "0.2", "0.4", "0.6", "0.8", grey("Flat", 29, before=1)],
                        ticklabelstandoff=11, ticklabelshift=-5)
layout["yaxis9"] = dict(grid, domain=dom_y(1083.5, 1496), anchor="x9", tickfont=dict(family=FONT, size=27, color=INK),
                        ticktext=["", "0.2", "0.4", "0.6", "0.8", grey("Flat", 29)], ticklabelstandoff=11)

# panel b: left histogram (CD8)
fig.add_trace(go.Bar(y=BIN_CENTRES, x=CD8_SHARE, orientation="h", width=0.2, xaxis="x10", yaxis="y10",
                     marker=dict(color="#58595b", line=dict(color=INK, width=1.2)), showlegend=False))
layout["xaxis10"] = dict(domain=dom_x(33, 182.4), anchor="y10", range=[42.7, 0], showgrid=False, zeroline=False, showline=False,
                         tickmode="array", tickvals=[25, 0], ticktext=["25%", "0%"], ticks="",
                         tickfont=dict(family=FONT, size=27, color=INK), ticklabelstandoff=4)
layout["yaxis10"] = dict(domain=dom_y(1085.5, 1497), anchor="x10", range=[0, 1], side="right", showgrid=False, zeroline=False,
                         showline=True, linecolor=INK, linewidth=1.6, showticklabels=False, ticks="")

# panel b: bottom histogram (CD4)
fig.add_trace(go.Bar(x=BIN_CENTRES, y=CD4_SHARE, width=0.2, xaxis="x11", yaxis="y11",
                     marker=dict(color=RED, line=dict(color=INK, width=1.2)), showlegend=False))
layout["xaxis11"] = dict(domain=dom_x(271.5, 961), anchor="y11", range=[0, 1], side="top", showgrid=False, zeroline=False,
                         showline=True, linecolor=INK, linewidth=1.6, showticklabels=False, ticks="")
layout["yaxis11"] = dict(domain=dom_y(1561.8, 1705.2), anchor="x11", range=[29.95, 0], side="right", showgrid=False, zeroline=False,
                         showline=False, tickmode="array", tickvals=[0, 25], ticktext=["0%", "25%"], ticks="",
                         tickfont=dict(family=FONT, size=27, color=INK), ticklabelstandoff=8, ticklabelshift=-3)

# panel b: legend column
fig.add_trace(go.Scatter(x=[0] * len(PATIENTS), y=PATIENTS, text=["\u00a0" + p for p in PATIENTS], mode="markers+text",
                         textposition="middle right", textfont=dict(family=FONT, size=27, color=INK), xaxis="x12", yaxis="y12",
                         cliponaxis=False, marker=dict(size=27, color=PATIENT_COLORS, opacity=0.92), showlegend=False))
layout["xaxis12"] = dict(domain=dom_x(1021.4, 1121.4), anchor="y12", range=[0, 1], visible=False)
layout["yaxis12"] = dict(domain=dom_y(1105, 1481), anchor="x12", type="category", categoryorder="array",
                         categoryarray=PATIENTS[::-1], range=[-0.5, 7.5], visible=False)

# panel c: contours then points with error bars
for xs, ys, k in BLUE_CONTOURS + RED_CONTOURS:
    fig.add_trace(go.Scatter(x=xs, y=ys, mode="lines", xaxis="x13", yaxis="y13", showlegend=False,
                             line=dict(color=CONTOUR_COLORS[k], width=2, shape="spline", smoothing=0.8)))


def point_trace(names, xv, yv, xlo, xhi, ylo, yhi, color):
    return go.Scatter(x=xv, y=yv, name=",".join(names), mode="markers", xaxis="x13", yaxis="y13", showlegend=False, cliponaxis=False,
                      marker=dict(size=17, color=color, line=dict(width=0)),
                      error_x=dict(type="data", symmetric=False, array=[h - v for h, v in zip(xhi, xv)],
                                   arrayminus=[v - l for l, v in zip(xlo, xv)], color="#868686", thickness=2, width=5),
                      error_y=dict(type="data", symmetric=False, array=[h - v for h, v in zip(yhi, yv)],
                                   arrayminus=[v - l for l, v in zip(ylo, yv)], color="#868686", thickness=2, width=5))


fig.add_trace(point_trace(C_BLUE, C_BLUE_X, C_BLUE_Y, C_BLUE_XLO, C_BLUE_XHI, C_BLUE_YLO, C_BLUE_YHI, "#2f52a5"))
fig.add_trace(point_trace(C_RED, C_RED_X, C_RED_Y, C_RED_XLO, C_RED_XHI, C_RED_YLO, C_RED_YHI, "#ed1c24"))
layout["xaxis13"] = dict(grid, domain=dom_x(1279.7, 1861.5), anchor="y13", tickfont=dict(family=FONT, size=29, color=INK),
                         ticktext=[grey("Fluctuant", 32, after=3), "0.2", "0.4", "0.6", "0.8", grey("Flat", 32)],
                         ticklabelstandoff=-4, ticks="")
layout["yaxis13"] = dict(grid, domain=dom_y(1074, 1657.3), anchor="x13", tickfont=dict(family=FONT, size=29, color=INK),
                         ticktext=["", "0.2", "0.4", "0.6", "0.8", grey("Flat", 32, after=1)], ticklabelstandoff=-5, ticks="")

# ---------- free text
note("a", 14, 12, 85)
note("b", 20, 965, 86)
note("c", 1166, 970, 84)
note("MHSI", 107, 1023, 26)
note("of CD8<sup>+</sup> T-cells", 107, 1056, 27.5)
note("MHSI of T-cell subsets", 630, 1036, 41.7)
note("Proportion", 133, 1562, 29)
note("MHSI distribution of CD4<sup>+</sup> T-cells", 611, 1735, 28)
note("Clustering of patients", 1568, 1026, 43.4)
note("cAverage MHSI for CD8<sup>+</sup> T-cells", 1195, 1356, 31.6, angle=-90)
note("Average MHSI for CD4<sup>+</sup> T-cells", 1570.6, 1726, 31)
for text, x, y in [("WQK", 1561, 1105), ("LQM", 1724, 1127), ("WSQ", 1826, 1153), ("YYS", 1567, 1229),
                   ("WXJ", 1492, 1420), ("WDJ", 1681, 1436), ("ZHF", 1592, 1527), ("XRL", 1371, 1595)]:
    note(text, x, y, 29)
note("<b>Flat CD8<sup>+</sup></b>", 1421, 1124, 36, "#2e4a9c")
note("<b>repertoire</b>", 1421, 1173, 36, "#2e4a9c")
note("<b>Fluctuant CD8<sup>+</sup></b>", 1709, 1579, 36, "#d8262e")
note("<b>repertoire</b>", 1713, 1628, 36, "#d8262e")
note("<i>log-likelihood</i> = 12.749", 1509, 1280, 32.5)

fig.update_layout(width=W, height=H, margin=dict(l=0, r=0, t=0, b=0, autoexpand=False), paper_bgcolor="white",
                  plot_bgcolor="rgba(0,0,0,0)", showlegend=False, barmode="overlay", annotations=notes,
                  font=dict(family=FONT, color=INK), **layout)
fig.write_html("out.html", config={"displayModeBar": False}, post_script="document.body.style.margin='0';")
